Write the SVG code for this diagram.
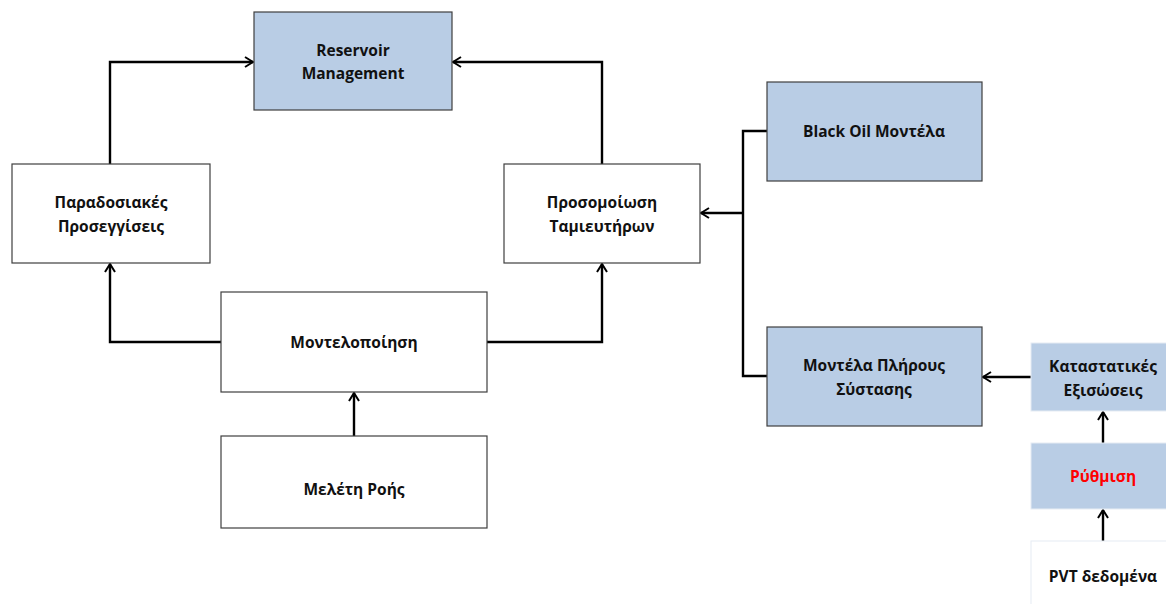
<svg xmlns="http://www.w3.org/2000/svg" width="1166" height="604" viewBox="0 0 1166 604">
  <style>
    .box { stroke: #3f3f3f; stroke-width: 1.2; }
    .blue { fill: #b9cde5; }
    .white { fill: #ffffff; }
    .soft { stroke: #e6ecf3; stroke-width: 1; }
    .lbl { font-family: "Open Sans", "Liberation Sans", sans-serif; font-weight: bold; font-size: 15.5px; fill: #111111; text-anchor: middle; }
    .red { fill: #ff0000; }
    .wire { fill: none; stroke: #000000; stroke-width: 2.4; }
  </style>
  <defs>
    <marker id="open" viewBox="0 0 12 12" refX="11" refY="6" markerWidth="12" markerHeight="12" markerUnits="userSpaceOnUse" orient="auto">
      <path d="M3,1 L11,6 L3,11" fill="none" stroke="#000000" stroke-width="2"/>
    </marker>
  </defs>
  <rect width="1166" height="604" fill="#ffffff"/>

  <g id="connectors">
    <path class="wire" d="M110,164 V62 H253" marker-end="url(#open)"/>
    <path class="wire" d="M602,164 V62 H453" marker-end="url(#open)"/>
    <path class="wire" d="M221,342 H110 V264" marker-end="url(#open)"/>
    <path class="wire" d="M487,342 H602 V264" marker-end="url(#open)"/>
    <path class="wire" d="M354,436 V393" marker-end="url(#open)"/>
    <path class="wire" d="M767,131 H743 V376 H767"/>
    <path class="wire" d="M743,213 H701" marker-end="url(#open)"/>
    <path class="wire" d="M1031,377 H983" marker-end="url(#open)"/>
    <path class="wire" d="M1103,443 V412" marker-end="url(#open)"/>
    <path class="wire" d="M1103,541 V510" marker-end="url(#open)"/>
  </g>

  <g id="reservoir-management">
    <rect class="box blue" x="254" y="12" width="198" height="98"/>
    <text class="lbl" x="353" y="56">Reservoir</text>
    <text class="lbl" x="353" y="79">Management</text>
  </g>

  <g id="traditional-approaches">
    <rect class="box white" x="12" y="164" width="198" height="99"/>
    <text class="lbl" x="111" y="208">Παραδοσιακές</text>
    <text class="lbl" x="111" y="232">Προσεγγίσεις</text>
  </g>

  <g id="reservoir-simulation">
    <rect class="box white" x="504" y="164" width="196" height="99"/>
    <text class="lbl" x="602" y="208">Προσομοίωση</text>
    <text class="lbl" x="602" y="232">Ταμιευτήρων</text>
  </g>

  <g id="black-oil-models">
    <rect class="box blue" x="767" y="82" width="215" height="99"/>
    <text class="lbl" x="874" y="137">Black Oil Μοντέλα</text>
  </g>

  <g id="compositional-models">
    <rect class="box blue" x="767" y="327" width="215" height="99"/>
    <text class="lbl" x="874" y="371">Μοντέλα Πλήρους</text>
    <text class="lbl" x="874" y="395">Σύστασης</text>
  </g>

  <g id="modelling">
    <rect class="box white" x="221" y="292" width="266" height="100"/>
    <text class="lbl" x="354" y="348">Μοντελοποίηση</text>
  </g>

  <g id="flow-study">
    <rect class="box white" x="221" y="436" width="266" height="92"/>
    <text class="lbl" x="354" y="495">Μελέτη Ροής</text>
  </g>

  <g id="equations-of-state">
    <rect class="soft blue" x="1031" y="343" width="140" height="68"/>
    <text class="lbl" x="1103" y="372">Καταστατικές</text>
    <text class="lbl" x="1103" y="396">Εξισώσεις</text>
  </g>

  <g id="tuning">
    <rect class="soft blue" x="1031" y="443" width="140" height="66"/>
    <text class="lbl red" x="1103" y="482">Ρύθμιση</text>
  </g>

  <g id="pvt-data">
    <rect class="soft white" x="1031" y="541" width="140" height="70"/>
    <text class="lbl" x="1103" y="582">PVT δεδομένα</text>
  </g>
</svg>
